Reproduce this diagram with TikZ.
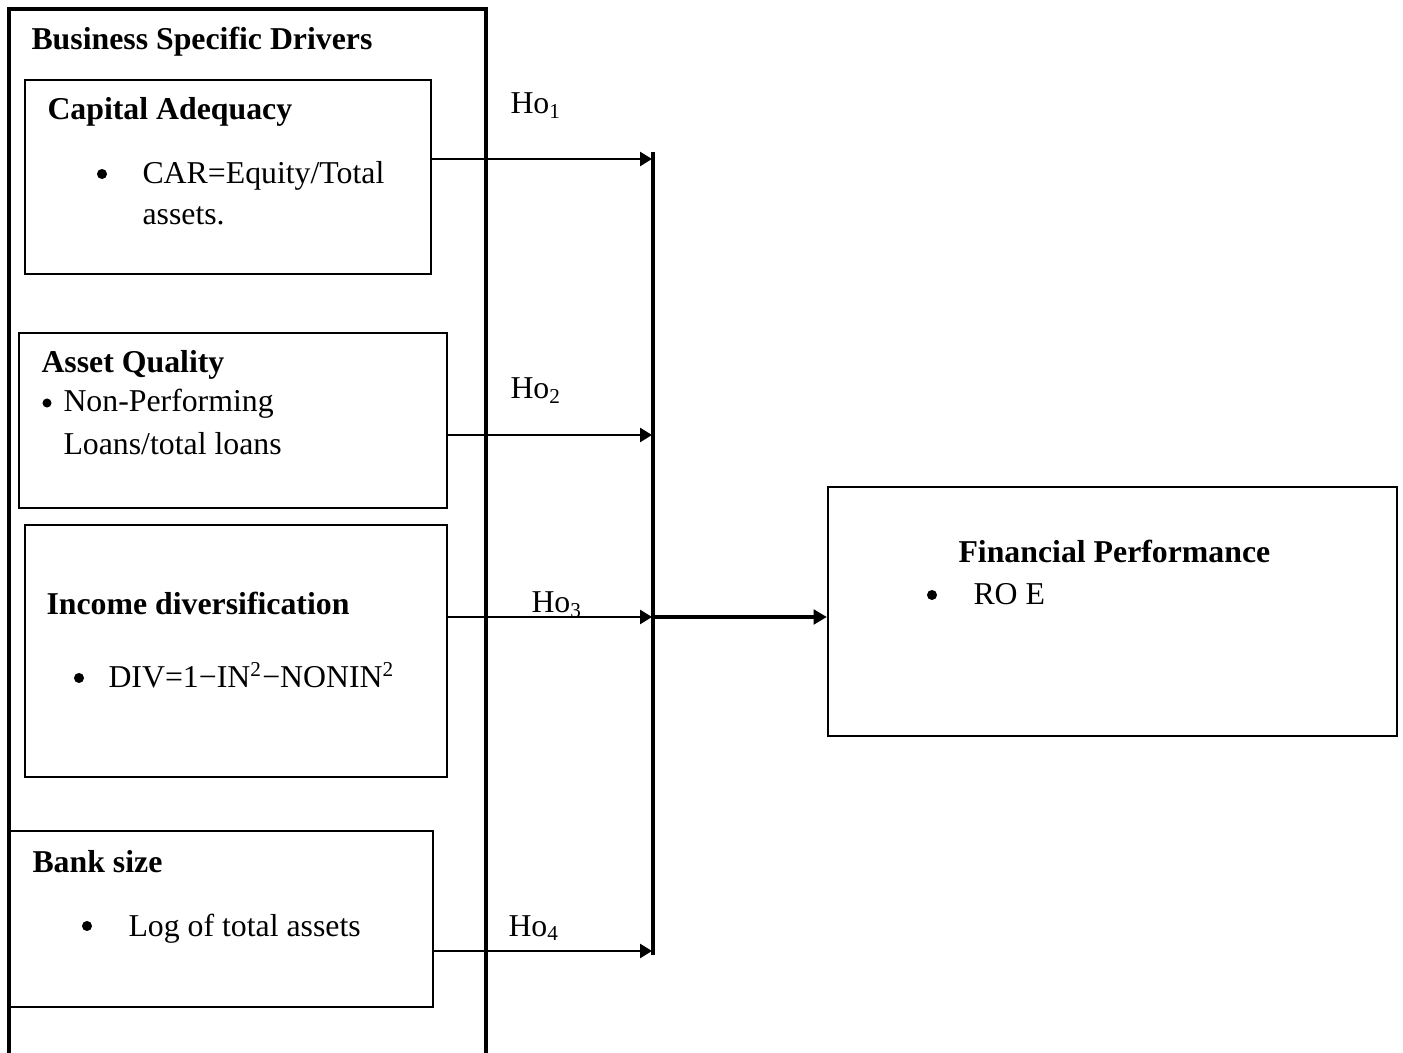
\documentclass[tikz,border=0pt]{standalone}
\usepackage{fontspec}
\setmainfont{Liberation Serif}
\usetikzlibrary{arrows.meta,fit}
\begin{document}
\begin{tikzpicture}[x=0.3774pt,y=-0.3774pt,
  box/.style={draw, line width=0.85pt, rectangle, inner sep=0pt},
  txt/.style={anchor=base west, inner sep=0pt, font=\fontsize{12pt}{14pt}\selectfont},
  btxt/.style={anchor=base west, inner sep=0pt, font=\fontsize{12pt}{14pt}\selectfont\bfseries},
  dot/.style={circle, fill=black, inner sep=0pt, minimum size=3.8pt},
  conn/.style={line width=0.85pt, -{Triangle[length=4.5pt,width=5.3pt]}},
  mainconn/.style={line width=1.5pt, -{Triangle[length=5pt,width=5.5pt]}},
  frame/.style={line width=1.15pt},
  bar/.style={line width=1.15pt}]
\useasboundingbox (0,0) rectangle (1403,1053);
% outer frame (open at the bottom)
\draw[frame] (9,1060) -- (9,9) -- (486,9) -- (486,1060);
\node[btxt] (title) at (31,50) {Business Specific Drivers};

% Capital Adequacy
\node[box, fit={(25,80) (431,274)}] (cap) {};
\node[btxt] (capt) at (47,120) {Capital Adequacy};
\node[dot] (capb) at (102,174) {};
\node[txt] (capl1) at (142,184) {CAR=Equity/Total};
\node[txt] (capl2) at (142,225) {assets.};

% Asset Quality
\node[box, fit={(19,333) (447,508)}] (aq) {};
\node[btxt] (aqt) at (41,373) {Asset Quality};
\node[dot, minimum size=3.4pt] (aqb) at (47,403) {};
\node[txt] (aql1) at (63,412) {Non-Performing};
\node[txt] (aql2) at (63,455) {Loans/total loans};

% Income diversification
\node[box, fit={(25,525) (447,777)}] (id) {};
\node[btxt] (idt) at (46,615) {Income diversification};
\node[dot] (idb) at (79,678) {};
\node[txt] (idl1) at (108,688) {DIV=1−IN\textsuperscript{2}−NONIN\textsuperscript{2}};

% Bank size
\node[box, fit={(10,831) (433,1007)}] (bs) {};
\node[btxt] (bst) at (32,872) {Bank size};
\node[dot] (bsb) at (87,926) {};
\node[txt] (bsl1) at (128,936) {Log of total assets};

% Financial Performance
\node[box, fit={(828,487) (1397,736)}] (fp) {};
\node[btxt] (fpt) at (958,563) {Financial Performance};
\node[dot] (fpb) at (932,595) {};
\node[txt] (fpl1) at (973,605) {RO E};

% hub line
\coordinate (htop) at (653,152);
\coordinate (hbot) at (653,955);
\draw[bar] (htop) -- (hbot);
\coordinate (h1) at (652,159);
\coordinate (h2) at (652,435);
\coordinate (h3) at (652,617);
\coordinate (h4) at (652,951);
\coordinate (hs) at (653,617);

\draw[conn] (cap.east |- h1) -- (h1);
\draw[conn] (aq.east |- h2) -- (h2);
\draw[conn] (id.east |- h3) -- (h3);
\draw[conn] (bs.east |- h4) -- (h4);
\draw[mainconn] (hs) -- (fp.west |- hs);

% hypothesis labels
\node[txt] (ho1) at (510,114) {Ho\textsubscript{1}};
\node[txt] (ho2) at (510,399) {Ho\textsubscript{2}};
\node[txt] (ho3) at (531,613) {Ho\textsubscript{3}};
\node[txt] (ho4) at (508,936) {Ho\textsubscript{4}};
\end{tikzpicture}
\end{document}
